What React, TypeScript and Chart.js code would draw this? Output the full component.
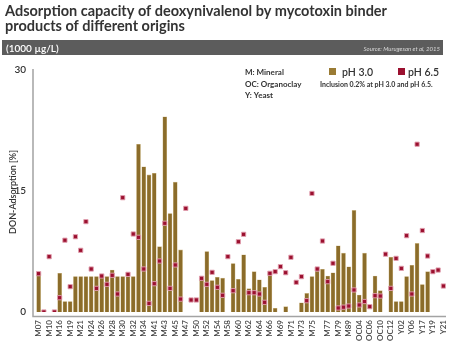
import React, { useEffect, useRef } from "react";
import { Chart, registerables } from "chart.js";

Chart.register(...registerables);

// ---- data ----
const categories = [
  "M07", "", "M10", "", "M16", "", "M19", "", "M21", "",
  "M24", "", "M26", "", "M28", "", "M30", "", "M32", "",
  "M34", "", "M41", "", "M43", "", "M45", "", "M47", "",
  "M50", "", "M52", "", "M54", "", "M58", "", "M60", "",
  "M62", "", "M64", "", "M66", "", "M69", "", "M71", "",
  "M73", "", "M75", "", "", "M77", "", "M79", "", "M89",
  "", "OC04", "", "OC06", "", "OC10", "", "OC12", "", "Y02",
  "", "Y06", "", "Y17", "", "Y19", "", "Y21",
];

const ph30: (number | null)[] = [
  4.8, null, null, null, 4.8, 1.3, 1.3, 4.4, 4.4, 4.4,
  4.4, 4.4, 4.4, 4.4, 5.2, 4.4, 4.4, 4.4, 4.4, 20.8,
  18.0, 17.0, 17.2, 8.1, 24.2, 12.2, 16.1, 7.7, null, null,
  null, 4.2, 7.5, 3.9, 4.3, 4.2, null, 6.0, 4.05, 7.1,
  2.9, 5.0, 4.0, 3.06, 4.8, 0.46, null, 0.66, null, null,
  1.15, 2.3, 4.4, 5.1, 5.3, 4.46, 4.87, 8.2, 7.3, 5.6,
  12.6, 2.1, 7.3, null, 4.46, 2.64, null, 6.8, 1.3, 1.3,
  4.4, 5.8, 8.5, 3.4, 5.0, null, null, null,
];

const ph65: (number | null)[] = [
  4.75, 0, 6.86, 0, 1.77, 8.9, 3.14, 9.33, 7.65, 11.2,
  5.33, 2.93, 4.46, 3.43, 4.55, 2.23, 14.17, 4.67, 9.67, 9.26,
  5.33, 1.07, 3.51, 6.32, 11.0, 2.93, 5.83, 1.6, 12.85, 1.49,
  1.49, 4.18, 3.43, 4.92, 3.06, 2.07, 6.86, 2.64, 8.71, 9.63,
  2.39, 2.39, 2.23, 1.2, 4.8, 5.0, 5.62, 4.87, 6.78, 3.68,
  4.38, 1.4, 14.7, 5.33, 8.8, 3.76, 6.04, 0.5, 0.6, 0.74,
  2.73, 0.87, 1.3, 0.66, 2.02, 1.98, 7.17, 2.93, 6.65, 5.41,
  9.46, 2.23, 20.8, 10.1, 6.94, 5.0, 5.2, 3.22,
];

const yTicks = [0, 15, 30];
const titleLines = [
  "Adsorption capacity of deoxynivalenol by mycotoxin binder",
  "products of different origins",
];
const unitLabel = "(1000 µg/L)";
const sourceLabel = "Source: Murugesan et al, 2015";
const originNotes = ["M: Mineral", "OC: Organoclay", "Y: Yeast"];
const seriesNames = ["pH 3.0", "pH 6.5"];
const inclusionNote = "Inclusion 0.2% at pH 3.0 and pH 6.5.";
const yAxisTitle = "DON-Adsorption [%]";

// ---- styles ----
const FONT = "Lato, 'Noto Sans', sans-serif";
const BAR_COLOR = "#8b6c2a";
const BAR_EDGE = "#cdb98a";
const DOT_COLOR = "#9b102f";
const DOT_EDGE = "rgba(225,160,175,0.9)";
const TEXT = "#333333";

const decorPlugin = {
  id: "decor",
  afterDraw(chart: any) {
    const ctx = chart.ctx as CanvasRenderingContext2D;
    const area = chart.chartArea;
    ctx.save();

    // titles
    ctx.fillStyle = TEXT;
    ctx.textAlign = "left";
    ctx.textBaseline = "alphabetic";
    ctx.font = `bold 14.5px ${FONT}`;
    ctx.fillText(titleLines[0], 5, 16);
    ctx.fillText(titleLines[1], 5, 30.5);

    // banner
    ctx.fillStyle = "#5c5c5c";
    ctx.fillRect(2, 40, 441, 15);
    ctx.fillStyle = "#ffffff";
    ctx.font = `600 10px ${FONT}`;
    ctx.fillText(unitLabel, 6, 51.5);
    ctx.fillStyle = "#d8d8d8";
    ctx.font = `italic 6px ${FONT}`;
    ctx.textAlign = "right";
    ctx.fillText(sourceLabel, 440, 50.5);

    // origin notes
    ctx.textAlign = "left";
    ctx.fillStyle = TEXT;
    ctx.font = `bold 8px ${FONT}`;
    originNotes.forEach((t, i) => ctx.fillText(t, 245, 75 + i * 11.5));

    // legend
    const boxes = [
      { x: 329, color: "#9a7b34", label: seriesNames[0], tx: 342 },
      { x: 398, color: "#9b102f", label: seriesNames[1], tx: 408 },
    ];
    ctx.font = `600 10.5px ${FONT}`;
    boxes.forEach((b) => {
      ctx.fillStyle = b.color;
      ctx.fillRect(b.x, 68, 7, 7);
      ctx.fillStyle = TEXT;
      ctx.fillText(b.label, b.tx, 75.5);
    });
    ctx.font = `bold 7px ${FONT}`;
    ctx.fillText(inclusionNote, 320, 86.5);

    // y axis title
    ctx.save();
    ctx.translate(13, 192);
    ctx.rotate(-Math.PI / 2);
    ctx.textAlign = "center";
    ctx.textBaseline = "middle";
    ctx.font = `600 9px ${FONT}`;
    ctx.fillStyle = TEXT;
    ctx.fillText(yAxisTitle, 0, 0);
    ctx.restore();

    // frame
    ctx.strokeStyle = "#a3a3a3";
    ctx.lineWidth = 1.5;
    ctx.beginPath();
    ctx.moveTo(area.left - 3, area.top - 1);
    ctx.lineTo(area.left - 3, area.bottom + 4.5);
    ctx.lineTo(area.right, area.bottom + 4.5);
    ctx.stroke();

    ctx.restore();
  },
};

export default function App() {
  const ref = useRef<HTMLCanvasElement | null>(null);

  useEffect(() => {
    if (!ref.current) return;
    const chart = new Chart(ref.current, {
      type: "bar",
      data: {
        labels: categories,
        datasets: [
          {
            type: "line",
            label: seriesNames[1],
            data: ph65,
            showLine: false,
            pointStyle: "rect",
            pointRadius: 3,
            pointBackgroundColor: DOT_COLOR,
            pointBorderColor: DOT_EDGE,
            pointBorderWidth: 1,
            order: 0,
          } as any,
          {
            type: "bar",
            label: seriesNames[0],
            data: ph30,
            backgroundColor: BAR_COLOR,
            borderColor: BAR_EDGE,
            borderWidth: 0.6,
            barThickness: 4,
            order: 1,
          },
        ],
      },
      options: {
        animation: false,
        responsive: false,
        devicePixelRatio: 1,
        layout: { padding: { top: 70, right: 19, left: 0, bottom: 0 } },
        plugins: {
          legend: { display: false },
          tooltip: { enabled: false },
          title: { display: false },
        },
        scales: {
          x: {
            grid: { display: false, drawTicks: false },
            border: { display: false },
            afterFit: (s: any) => {
              s.height = 38;
            },
            ticks: {
              autoSkip: false,
              maxRotation: 90,
              minRotation: 90,
              padding: 8,
              color: "#444",
              font: { family: FONT, size: 8, weight: "600" },
            },
          },
          y: {
            min: 0,
            max: 30,
            grid: { display: false, drawTicks: false },
            border: { display: false },
            afterFit: (s: any) => {
              s.width = 36;
            },
            afterBuildTicks: (s: any) => {
              s.ticks = yTicks.map((v) => ({ value: v }));
            },
            ticks: {
              padding: 10,
              color: TEXT,
              font: { family: FONT, size: 10, weight: "600" },
            },
          },
        },
      },
      plugins: [decorPlugin],
    });
    return () => chart.destroy();
  }, []);

  return (
    <div style={{ position: "absolute", left: 0, top: 0, width: 465, height: 350, background: "#fff" }}>
      <canvas ref={ref} width={465} height={350} style={{ width: 465, height: 350 }} />
    </div>
  );
}
